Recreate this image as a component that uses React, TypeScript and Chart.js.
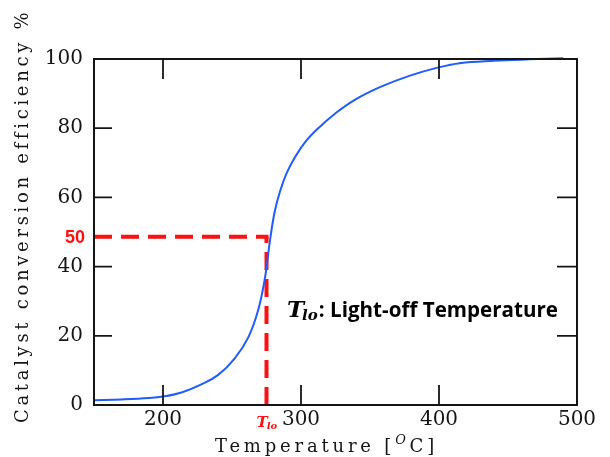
import React, { useEffect, useRef } from "react";
import { Chart, registerables } from "chart.js";

Chart.register(...registerables);

// ---- data ----
const temperatures = [150, 170, 190, 201, 214, 227, 240, 252, 262, 269, 274, 277.5, 281, 285, 289.6, 295.7, 303, 312.5, 324.6, 339, 358, 379, 399, 415, 440, 465, 490];
const efficiency = [1.4, 1.6, 2.0, 2.5, 3.7, 5.8, 8.7, 13.5, 19.7, 27.5, 37, 47.5, 56, 62, 67, 71.7, 76, 80, 84.2, 88.2, 92, 95.2, 97.5, 98.8, 99.5, 99.9, 100.2];
const xTickValues = [200, 300, 400, 500];
const yTickValues = [0, 20, 40, 60, 80, 100];
const xRange = [150, 500];
const yRange = [0, 100];
const lightOffTemp = 275;
const lightOffLevel = 48.6;
const lightOffLevelLabel = "50";
const xTitleMain = "Temperature [";
const xTitleSup = "O";
const xTitleEnd = "C]";
const yTitle = "Catalyst conversion efficiency %";
const annotationSymbol = "T";
const annotationSub = "lo";
const annotationText = ": Light-off Temperature";

const RED = "#ff1010";
const BLUE = "#1f5bff";
const INK = "#151515";

function fitSpacing(ctx: CanvasRenderingContext2D, text: string, target: number) {
  (ctx as any).letterSpacing = "0px";
  const w = ctx.measureText(text).width;
  const sp = (target - w) / Math.max(1, text.length - 1);
  return sp;
}

const decorPlugin = {
  id: "decor",
  beforeDatasetsDraw(chart: any) {
    const ctx: CanvasRenderingContext2D = chart.ctx;
    const { left, bottom } = chart.chartArea;
    const xs = chart.scales.x;
    const ys = chart.scales.y;
    const px = xs.getPixelForValue(lightOffTemp);
    const py = ys.getPixelForValue(lightOffLevel);
    ctx.save();
    ctx.strokeStyle = RED;
    ctx.lineWidth = 4;
    ctx.setLineDash([18, 9]);
    ctx.beginPath();
    ctx.moveTo(left, py);
    ctx.lineTo(px + 2, py);
    ctx.stroke();
    ctx.beginPath();
    ctx.moveTo(px, bottom);
    ctx.lineTo(px, py);
    ctx.stroke();
    ctx.restore();
  },
  afterDraw(chart: any) {
    const ctx: CanvasRenderingContext2D = chart.ctx;
    const { left, right, top, bottom } = chart.chartArea;
    const xs = chart.scales.x;
    const ys = chart.scales.y;
    ctx.save();
    // frame
    ctx.strokeStyle = INK;
    ctx.lineWidth = 2;
    ctx.strokeRect(left, top, right - left, bottom - top);
    // inward ticks
    const tl = 20;
    ctx.lineWidth = 1.8;
    ctx.beginPath();
    for (const v of xTickValues) {
      if (v <= xRange[0] || v >= xRange[1]) continue;
      const x = xs.getPixelForValue(v);
      ctx.moveTo(x, bottom);
      ctx.lineTo(x, bottom - tl);
      ctx.moveTo(x, top);
      ctx.lineTo(x, top + tl);
    }
    for (const v of yTickValues) {
      if (v <= yRange[0] || v >= yRange[1]) continue;
      const y = ys.getPixelForValue(v);
      ctx.moveTo(left, y);
      ctx.lineTo(left + tl - 2, y);
      ctx.moveTo(right, y);
      ctx.lineTo(right - tl, y);
    }
    ctx.stroke();

    // red level label
    const px = xs.getPixelForValue(lightOffTemp);
    const py = ys.getPixelForValue(lightOffLevel);
    ctx.fillStyle = RED;
    ctx.font = "bold 18px 'Liberation Sans', sans-serif";
    ctx.textAlign = "right";
    ctx.textBaseline = "middle";
    ctx.fillText(lightOffLevelLabel, left - 9, py + 1);

    // red T_lo under the axis
    ctx.textAlign = "left";
    ctx.textBaseline = "alphabetic";
    ctx.font = "bold italic 15px 'DejaVu Serif', serif";
    const tW = ctx.measureText(annotationSymbol).width;
    const tx = px - 10;
    ctx.fillText(annotationSymbol, tx, 427);
    ctx.font = "bold italic 10px 'DejaVu Serif', serif";
    ctx.fillText(annotationSub, tx + tW - 1, 429);

    // annotation
    ctx.fillStyle = "#000";
    ctx.font = "bold italic 23px 'DejaVu Serif', serif";
    const aT = ctx.measureText(annotationSymbol).width;
    const ax = 287;
    ctx.fillText(annotationSymbol, ax, 317);
    ctx.font = "bold italic 15px 'DejaVu Serif', serif";
    const subX = ax + aT - 2;
    ctx.fillText(annotationSub, subX, 320);
    const subW = ctx.measureText(annotationSub).width;
    ctx.font = "bold 21px 'Open Sans', sans-serif";
    const textStart = subX + subW + 1;
    const targetW = 558 - textStart;
    const w = ctx.measureText(annotationText).width;
    ctx.save();
    ctx.translate(textStart, 317);
    ctx.scale(targetW / w, 1);
    ctx.fillText(annotationText, 0, 0);
    ctx.restore();

    // axis titles
    ctx.fillStyle = INK;
    ctx.font = "18px 'DejaVu Serif', serif";
    // y title
    ctx.save();
    ctx.translate(28, 218);
    ctx.rotate(-Math.PI / 2);
    const ySp = fitSpacing(ctx, yTitle, 410);
    (ctx as any).letterSpacing = ySp + "px";
    ctx.textAlign = "left";
    ctx.fillText(yTitle, -205, 0);
    ctx.restore();

    // x title
    const xStart = 215;
    const xTarget = 223;
    ctx.font = "18px 'DejaVu Serif', serif";
    (ctx as any).letterSpacing = "0px";
    const w1 = ctx.measureText(xTitleMain).width;
    const w3 = ctx.measureText(xTitleEnd).width;
    ctx.font = "italic 13px 'DejaVu Serif', serif";
    const w2 = ctx.measureText(xTitleSup).width;
    const nChars = xTitleMain.length + xTitleEnd.length + 1;
    const sp = (xTarget - (w1 + w2 + w3)) / nChars;
    let cx = xStart;
    ctx.font = "18px 'DejaVu Serif', serif";
    (ctx as any).letterSpacing = sp + "px";
    ctx.fillText(xTitleMain, cx, 452);
    cx += w1 + sp * xTitleMain.length;
    ctx.font = "italic 13px 'DejaVu Serif', serif";
    ctx.fillText(xTitleSup, cx, 444);
    cx += w2 + sp;
    ctx.font = "18px 'DejaVu Serif', serif";
    ctx.fillText(xTitleEnd, cx, 452);
    (ctx as any).letterSpacing = "0px";
    ctx.restore();
  },
};

export default function App() {
  const canvasRef = useRef<HTMLCanvasElement>(null);
  useEffect(() => {
    const canvas = canvasRef.current;
    if (!canvas) return;
    const chart = new Chart(canvas, {
      type: "line",
      data: {
        datasets: [
          {
            data: temperatures.map((t, i) => ({ x: t, y: efficiency[i] })),
            borderColor: BLUE,
            borderWidth: 2,
            pointRadius: 0,
            fill: false,
            tension: 0.4,
            clip: false as any,
          },
        ],
      },
      options: {
        animation: false,
        responsive: false,
        devicePixelRatio: 1,
        layout: { padding: { top: 59, right: 33, left: 0, bottom: 0 } },
        plugins: {
          legend: { display: false },
          tooltip: { enabled: false },
          title: { display: false },
        },
        scales: {
          x: {
            type: "linear",
            min: xRange[0],
            max: xRange[1],
            grid: { display: false, drawTicks: false },
            border: { display: false },
            afterBuildTicks: (s: any) => {
              s.ticks = xTickValues.map((v) => ({ value: v }));
            },
            afterFit: (s: any) => {
              s.height = 52;
            },
            ticks: {
              font: { family: "'DejaVu Serif', serif", size: 20 },
              color: INK,
              padding: 3,
              maxRotation: 0,
              autoSkip: false,
            },
          },
          y: {
            type: "linear",
            min: yRange[0],
            max: yRange[1],
            grid: { display: false, drawTicks: false },
            border: { display: false },
            afterBuildTicks: (s: any) => {
              s.ticks = yTickValues.map((v) => ({ value: v }));
            },
            afterFit: (s: any) => {
              s.width = 94;
            },
            ticks: {
              font: { family: "'DejaVu Serif', serif", size: 20 },
              color: INK,
              padding: 11,
              autoSkip: false,
            },
          },
        },
      },
      plugins: [decorPlugin],
    } as any);
    return () => chart.destroy();
  }, []);
  return (
    <div style={{ position: "fixed", left: 0, top: 0, width: 610, height: 457, background: "#fff" }}>
      <canvas ref={canvasRef} width={610} height={457} style={{ display: "block" }} />
    </div>
  );
}
